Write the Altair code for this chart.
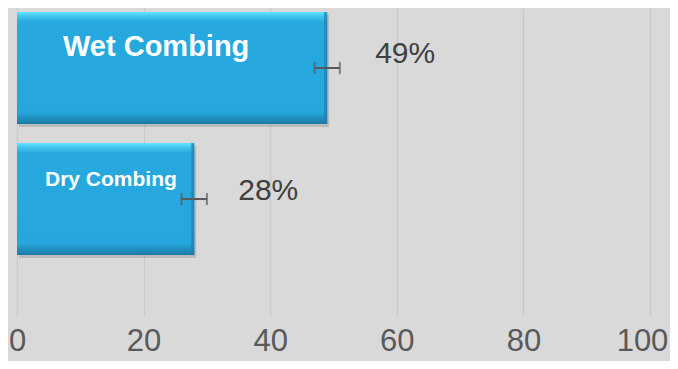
import altair as alt
import pandas as pd

categories = ["Wet Combing", "Dry Combing"]
values = [49, 28]
errors = [2, 2]
pct_labels = ["49%", "28%"]

df = pd.DataFrame({
    "cat": categories,
    "val": values,
    "lo": [v - e for v, e in zip(values, errors)],
    "hi": [v + e for v, e in zip(values, errors)],
    "pct": pct_labels,
})

FONT = "Liberation Sans"

xscale = alt.Scale(domain=[0, 100], nice=False, zero=True)
yscale = alt.Scale(domain=categories, paddingInner=0.145, paddingOuter=0.244, align=0.0625)

X = alt.X("val:Q", scale=xscale,
          axis=alt.Axis(values=[0, 20, 40, 60, 80, 100], title=None, domain=False, ticks=False,
                        labelFontSize=31, labelColor="#595959", labelFont=FONT, labelPadding=11,
                        labelOffset=alt.ExprRef("datum.value == 100 ? -8 : 0"),
                        grid=True, gridColor="#c8c8c8", gridWidth=1.2, labelFlush=False))
Y = alt.Y("cat:N", scale=yscale, axis=None, sort=categories)

base = alt.Chart(df)

shadow = base.mark_bar(color="#a3a3a3", opacity=0.55, xOffset=2, yOffset=3).encode(
    x=alt.X("val:Q", scale=xscale), y=Y)

grad = alt.Gradient(
    gradient="linear", x1=0, y1=0, x2=0, y2=1,
    stops=[
        alt.GradientStop(offset=0, color="#66e4ff"),
        alt.GradientStop(offset=0.04, color="#3fc4ef"),
        alt.GradientStop(offset=0.09, color="#27a9df"),
        alt.GradientStop(offset=0.9, color="#25a6dc"),
        alt.GradientStop(offset=0.95, color="#1f8fc0"),
        alt.GradientStop(offset=1, color="#1b7aa5"),
    ])

bars = base.mark_bar(color=grad).encode(x=X, y=Y)

edge = base.mark_tick(color="#1d7fab", thickness=3, size=112, orient="vertical", xOffset=-1.5).encode(
    x=alt.X("val:Q", scale=xscale), y=Y)

err = base.mark_rule(color="#595959", strokeWidth=2).encode(
    x=alt.X("lo:Q", scale=xscale), x2="hi:Q", y=Y)
cap_lo = base.mark_tick(color="#595959", thickness=2, size=12, orient="vertical").encode(
    x=alt.X("lo:Q", scale=xscale), y=Y)
cap_hi = base.mark_tick(color="#595959", thickness=2, size=12, orient="vertical").encode(
    x=alt.X("hi:Q", scale=xscale), y=Y)

def pct_text(cat, dx, dy):
    return base.transform_filter(alt.datum.cat == cat).mark_text(
        align="left", baseline="middle", dx=dx, dy=dy, fontSize=30, font=FONT, color="#404040"
    ).encode(x=alt.X("val:Q", scale=xscale), y=Y, text="pct:N")

def inner_text(cat, dx, dy, size):
    return base.transform_filter(alt.datum.cat == cat).mark_text(
        align="left", baseline="middle", dx=dx, dy=dy, fontSize=size, fontWeight="bold",
        font=FONT, color="white"
    ).encode(x=alt.value(0), y=Y, text="cat:N")

chart = alt.layer(
    bars, shadow, bars, edge, err, cap_lo, cap_hi,
    pct_text("Wet Combing", 48, -14), pct_text("Dry Combing", 44, -8),
    inner_text("Wet Combing", 46, -21, 29), inner_text("Dry Combing", 28, -19, 21),
).properties(
    width=633, height=307, autosize="none",
    padding={"left": 9, "top": 0, "right": 20, "bottom": 46},
    background="#d9d9d9",
).configure_view(stroke=None)

chart.save("out.html", embed_options={"renderer": "svg", "actions": False})
